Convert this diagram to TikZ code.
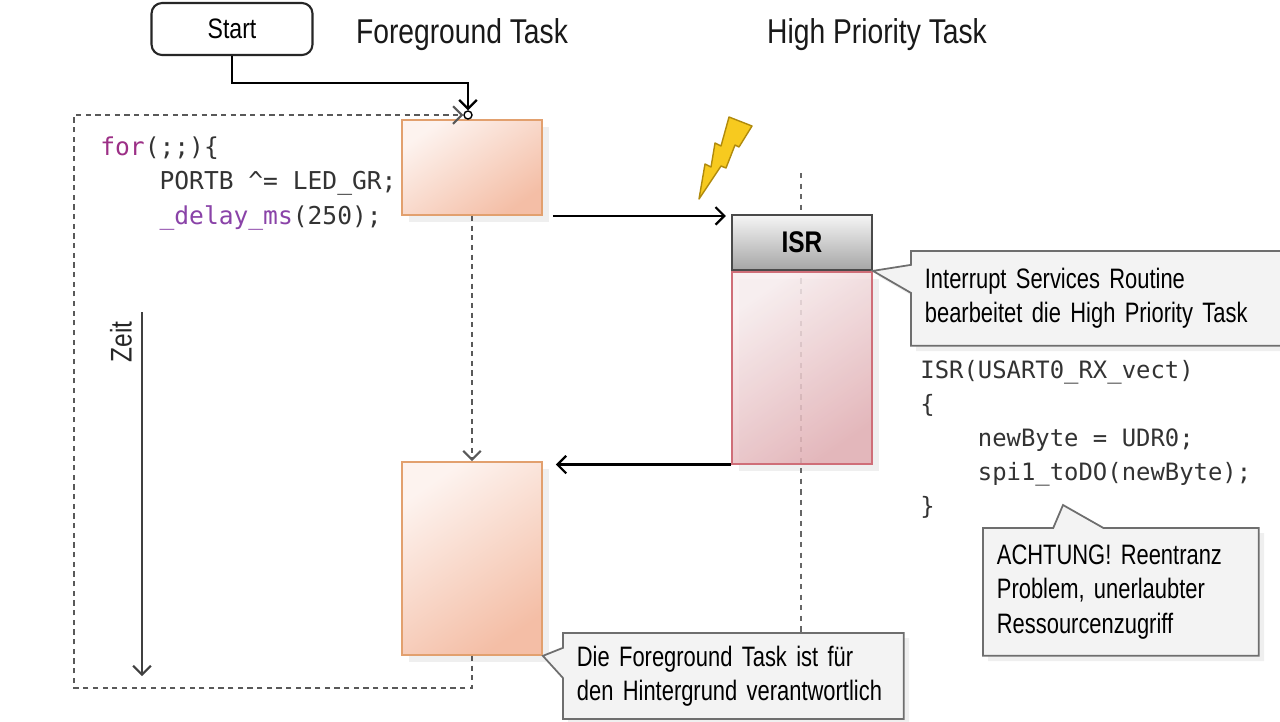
\documentclass[tikz,border=0pt]{standalone}
\usepackage{fontspec}
\setmainfont{Liberation Sans}
\newfontfamily\narrowsf[FakeStretch=0.82]{Liberation Sans}
\newfontfamily\notesf[FakeStretch=0.78]{Liberation Sans}
\newfontfamily\codett{DejaVu Sans Mono}
\usetikzlibrary{arrows.meta,positioning,shadows,shapes.callouts}

\definecolor{fgline}{HTML}{E2A06E}
\definecolor{fglight}{HTML}{FDF3EF}
\definecolor{fgdark}{HTML}{F4BEA6}
\definecolor{isrline}{HTML}{CF6E78}
\definecolor{isrlight}{HTML}{F9EEEF}
\definecolor{isrdark}{HTML}{E2AEB3}
\definecolor{hdrline}{HTML}{4A4A4A}
\definecolor{hdrlight}{HTML}{F5F5F5}
\definecolor{hdrdark}{HTML}{A6A6A6}
\definecolor{notefill}{HTML}{F3F3F3}
\definecolor{notedraw}{HTML}{6E6E6E}
\definecolor{codegray}{HTML}{333333}
\definecolor{keyword}{HTML}{9C2F86}
\definecolor{func}{HTML}{8A43A8}
\definecolor{bolt}{HTML}{F7CA1F}
\definecolor{boltline}{HTML}{B08A0C}

\begin{document}
\begin{tikzpicture}[x=0.02cm,y=-0.02cm,
  >={Straight Barb[length=5pt,width=10pt]},
  wire/.style={line width=1.3pt,black},
  loopline/.style={line width=1.2pt,black!65,dash pattern=on 3pt off 2.5pt},
  lifeline/.style={line width=1pt,black!60,dash pattern=on 3pt off 3pt},
  task/.style={draw=fgline,line width=1pt,top color=fglight,bottom color=fgdark,
    shading angle=35,minimum width=2.8cm,
    drop shadow={opacity=0.12,shadow xshift=4pt,shadow yshift=-4pt}},
  isrtop/.style={draw=hdrline,line width=1pt,top color=hdrlight,bottom color=hdrdark,
    minimum width=2.8cm,minimum height=1.1cm,inner sep=0pt,
    font=\narrowsf\bfseries\fontsize{17}{20}\selectfont},
  isrbody/.style={draw=isrline,line width=1pt,top color=isrlight,bottom color=isrdark,
    shading angle=35,fill opacity=0.85,minimum width=2.8cm,minimum height=3.84cm,
    drop shadow={opacity=0.12,shadow xshift=4pt,shadow yshift=-4pt}},
  startbox/.style={draw=black!85,line width=1.2pt,rounded corners=6pt,fill=white,
    minimum width=3.22cm,minimum height=1.04cm,
    font=\narrowsf\fontsize{16}{19}\selectfont},
  title/.style={font=\narrowsf\fontsize{19.6}{22}\selectfont,text=black!90},
  note/.style={rectangle callout,draw=notedraw,line width=1pt,fill=notefill,
    align=left,inner xsep=0.28cm,font=\notesf\fontsize{16}{19.5}\selectfont,
    drop shadow={opacity=0.12,shadow xshift=3pt,shadow yshift=-3pt}},
  code/.style={align=left,inner sep=0pt,text=codegray}
]
  \useasboundingbox[fill=white] (0,0) rectangle (1280,721);

  % titles and start
  \node[startbox] (start)  at (232,29) {Start};
  \node[title]    (fgtask) at (462,35) {Foreground Task};
  \node[title]    (hptask) at (877,35) {High Priority Task};

  % foreground task
  \node[task,minimum height=1.9cm]  (fg1) at (472,167.5) {};
  \node[task,minimum height=3.86cm] (fg2) at (472,558.5) {};
  \node[draw,circle,line width=0.8pt,fill=white,inner sep=0pt,minimum size=0.16cm] (entry) at (468,115) {};
  \coordinate (loopnw) at (74,115);

  \draw[wire,->] (start.south) -- ++(0,27) -| (entry.north);
  \draw[loopline,->] (fg2.south) -- ++(0,32) -| (loopnw) -- (entry.west);
  \draw[loopline,->] (fg1.south) -- (fg2.north);

  \node[code,anchor=north west,font=\codett\fontsize{14}{19.8}\selectfont] (loopcode) at (100,136)
    {\textcolor{keyword}{for}(;;)\{\\
     \phantom{xxxx}PORTB \textasciicircum= LED\_GR;\\
     \phantom{xxxx}\textcolor{func}{\_delay\_ms}(250);};

  % time axis
  \coordinate (t0) at (142,312);
  \coordinate (t1) at (142,676);
  \draw[line width=1.2pt,black!75,->] (t0) -- (t1);
  \node[rotate=90,font=\narrowsf\fontsize{17}{20}\selectfont,text=black!85] (zeit) at (121,342) {Zeit};

  % high priority task
  \coordinate (hptop) at (801,173);
  \coordinate (hpbot) at (801,633);
  \draw[lifeline] (hptop) -- (hpbot);

  \node[isrtop] (isrhead) at (802,242.5) {ISR};
  \node[isrbody,below=0pt of isrhead] (isr) {};

  \filldraw[fill=bolt,draw=boltline,line width=0.8pt,line join=round]
    (729,117) -- (752,126) -- (739,147) -- (735,145) -- (726,168) -- (721,166)
    -- (699,199) -- (705,164) -- (711,167) -- (715,143) -- (721,146) -- cycle;

  \draw[wire,->] ([xshift=0.2cm]fg1.south east) -- ([xshift=-3pt]fg1.south east -| isrhead.west);
  \draw[wire,->] (isr.south west) -- ([xshift=0.26cm]fg2.north east |- isr.south west);

  \node[code,anchor=north west,font=\codett\fontsize{13.6}{19.3}\selectfont] (isrcode) at (920,360)
    {ISR(USART0\_RX\_vect)\\
     \{\\
     \phantom{xxxx}newByte = UDR0;\\
     \phantom{xxxx}spi1\_toDO(newByte);\\
     \}};

  % notes
  \coordinate (codeend) at (1063,505);
  \node[note,callout absolute pointer={(isrhead.south east)},callout pointer width=0.56cm,
    text width=7.04cm,minimum height=1.9cm,anchor=north west] (isrnote) at (910,250)
    {Interrupt Services Routine\\bearbeitet die High Priority Task};
  \node[note,callout absolute pointer={(codeend)},callout pointer width=1cm,
    text width=4.96cm,minimum height=2.56cm,anchor=north west] (reentnote) at (982,527)
    {ACHTUNG! Reentranz\\Problem, unerlaubter\\Ressourcenzugriff};
  \node[note,callout absolute pointer={(fg2.south east)},callout pointer width=0.6cm,
    text width=6.26cm,minimum height=1.72cm,anchor=north west] (fgnote) at (562,632)
    {Die Foreground Task ist für\\den Hintergrund verantwortlich};
\end{tikzpicture}
\end{document}
